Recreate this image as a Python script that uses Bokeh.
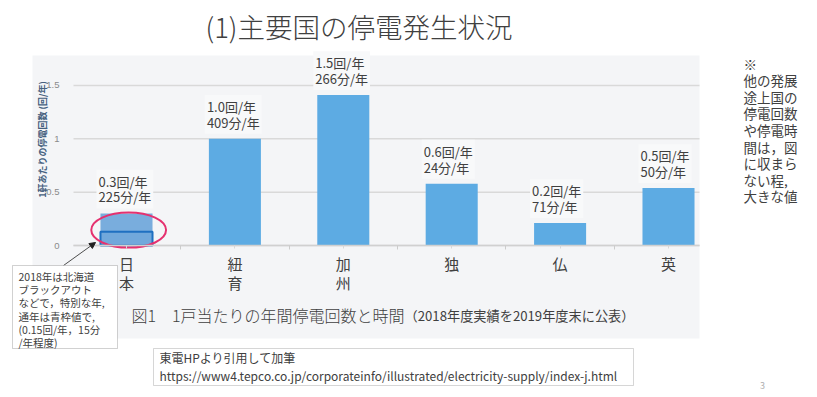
import math
from bokeh.plotting import figure
from bokeh.models import (Range1d, FixedTicker, Label, BoxAnnotation, Arrow,
                          NormalHead, ColumnDataSource, LinearAxis)
from bokeh.embed import file_html
from bokeh.resources import INLINE
from bokeh.core.properties import value

# ---------------- data ----------------
categories = ["日本", "紐育", "加州", "独", "仏", "英"]
outage_count_bar = [0.30, 1.00, 1.41, 0.58, 0.21, 0.54]
count_labels = ["0.3", "1.0", "1.5", "0.6", "0.2", "0.5"]
minute_labels = ["225", "409", "266", "24", "71", "50"]
japan_typical = [0.13]
y_ticks = [0, 0.5, 1, 1.5]
y_tick_labels = ["0", "0.5", "1", "1.5"]

title_text = "(1)主要国の停電発生状況"
caption_main = "図1　1戸当たりの年間停電回数と時間"
caption_sub = "（2018年度実績を2019年度末に公表）"
y_axis_title = "1軒あたりの停電回数 (回/年)"
note_left = "2018年は北海道\nブラックアウト\nなどで，特別な年,\n通年は青枠値で,\n(0.15回/年，15分\n/年程度)"
note_right = "※\n他の発展\n途上国の\n停電回数\nや停電時\n間は，図\nに収まら\nない程,\n大きな値"
source_text = "東電HPより引用して加筆\nhttps://www4.tepco.co.jp/corporateinfo/illustrated/electricity-supply/index-j.html"
page_no = "3"

# ---------------- layout ----------------
FONT = "Noto Sans CJK JP"
FONT_LIGHT = "Noto Sans CJK JP Light, Noto Sans CJK JP"
W, H = 817, 397
PX_PER_Y = 106.67      # pixels per unit on value axis
PX_PER_X = 108.4       # pixels per category step
X0 = 126               # pixel x of first category centre
Y_ZERO = 245           # pixel y of value 0
CH_L, CH_R = 73, 699   # chart plotting area (pixels)

x_start = (0 - X0) / PX_PER_X
x_end = (W - X0) / PX_PER_X
y_start = -(H - Y_ZERO) / PX_PER_Y
y_end = Y_ZERO / PX_PER_Y
x_left = (CH_L - X0) / PX_PER_X
x_right = (CH_R - X0) / PX_PER_X

p = figure(width=W, height=H, output_backend="svg", toolbar_location=None,
           x_range=Range1d(x_start, x_end), y_range=Range1d(y_start, y_end),
           x_axis_type=None, y_axis_type=None,
           min_border=0, min_border_left=0, min_border_right=0,
           min_border_top=0, min_border_bottom=0)
p.title.visible = False
p.outline_line_color = None
p.background_fill_color = "white"
p.border_fill_color = "white"
p.grid.visible = False

# pixel ranges for page decorations
p.extra_x_ranges = {"px": Range1d(0, W)}
p.extra_y_ranges = {"py": Range1d(H, 0)}

p.add_layout(BoxAnnotation(left=32, right=699, top=55, bottom=338,
                           x_range_name="px", y_range_name="py",
                           fill_color="#f4f5f7", fill_alpha=1, line_color=None,
                           level="image"))

# ---------------- grid lines (from tick values) ----------------
p.segment(x0=[x_left] * len(y_ticks), x1=[x_right] * len(y_ticks),
          y0=y_ticks, y1=y_ticks, line_color="#d9d9d9", line_width=1.5)

# ---------------- axes ----------------
def norm(t):
    return int(t) if float(t).is_integer() else t

yax = LinearAxis(fixed_location=x_left, ticker=FixedTicker(ticks=y_ticks))
yax.major_label_overrides = {norm(t): l for t, l in zip(y_ticks, y_tick_labels)}
yax.axis_line_color = None
yax.major_tick_line_color = None
yax.minor_tick_line_color = None
yax.major_label_text_font_size = "9.5px"
yax.major_label_text_color = "#8a8a8a"
yax.major_label_standoff = 8
p.add_layout(yax, "left")

xs = list(range(len(categories)))
xax = LinearAxis(fixed_location=0, bounds=(x_left, x_right),
                 ticker=FixedTicker(ticks=xs, minor_ticks=[i + 0.5 for i in xs[:-1]]))
xax.major_label_overrides = {i: "\n".join(c) for i, c in zip(xs, categories)}
xax.axis_line_color = "#d0d0d0"
xax.axis_line_width = 1.5
xax.major_tick_line_color = "#d8d8d8"
xax.major_tick_in = 0
xax.major_tick_out = 3
xax.minor_tick_line_color = "#cccccc"
xax.minor_tick_in = 0
xax.minor_tick_out = 4
xax.major_label_text_font = FONT
xax.major_label_text_font_size = "15px"
xax.major_label_text_color = "#404040"
xax.major_label_text_line_height = 0.92
xax.major_label_standoff = 3
p.add_layout(xax, "below")

# ---------------- bars ----------------
BAR_W = 0.48
bar_colors = ["#79addd" if i == 0 else "#5dabe3" for i in xs]
src = ColumnDataSource(dict(
    x=xs, top=outage_count_bar, color=bar_colors,
    lx=[i - BAR_W / 2 for i in xs],
    label=[f"{c}回/年\n{m}分/年" for c, m in zip(count_labels, minute_labels)],
))
p.vbar(x="x", top="top", width=BAR_W, fill_color="color", line_color=None, source=src)
p.vbar(x=[0], top=japan_typical, width=BAR_W, fill_color="#71a8db",
       line_color="#1f70c1", line_width=2)

p.text(x="lx", y="top", text="label", source=src, text_font=value(FONT),
       text_font_size="13px", text_color="#404040", text_align="left",
       text_baseline="bottom", x_offset=-4, y_offset=-5, text_line_height=0.83,
       background_fill_color="#f8f9fa", padding=2)

# highlight ellipse around Japan bar
p.ellipse(x=[0.02], y=[0.145], width=0.69, height=0.33, fill_color=None,
          line_color="#e5316f", line_width=2)

# ---------------- page texts ----------------
def lbl(x, y, text, size, color="#404040", align="left", baseline="top", lh=1.2,
        font=FONT, **kw):
    p.add_layout(Label(x=x, y=y, text=text, x_range_name="px", y_range_name="py",
                       text_font=font, text_font_size=size, text_color=color,
                       text_align=align, text_baseline=baseline,
                       text_line_height=lh, **kw))

lbl(42, 139, y_axis_title, "9px", color="#45607e", align="center",
    baseline="middle", angle=math.pi / 2, text_font_style="bold")
lbl(205, 25, title_text, "27.5px", baseline="middle", font=FONT_LIGHT)
lbl(131, 314, caption_main, "16px", baseline="middle", font=FONT_LIGHT)
lbl(404, 315, caption_sub, "13.2px", baseline="middle")
lbl(743, 53, note_right, "13.5px", lh=0.83)

# left note box
p.add_layout(BoxAnnotation(left=12, right=117, top=265, bottom=348,
                           x_range_name="px", y_range_name="py",
                           fill_color="white", fill_alpha=1,
                           line_color="#666666", line_width=1, level="overlay"))
lbl(18, 268, note_left, "10.5px", lh=0.89, level="overlay")
p.add_layout(Arrow(x_start=63, y_start=265, x_end=95, y_end=242,
                   x_range_name="px", y_range_name="py",
                   line_color="#222222", line_width=0.8,
                   end=NormalHead(size=6, fill_color="#222222", line_color="#222222")))

# source box
p.add_layout(BoxAnnotation(left=153, right=633, top=348, bottom=385,
                           x_range_name="px", y_range_name="py",
                           fill_color="white", fill_alpha=1,
                           line_color="#777777", line_width=1, level="overlay"))
lbl(159, 348, source_text, "12px", lh=1.11, level="overlay")

lbl(762, 385, page_no, "9px", color="#b0b0b0", align="center", baseline="middle")

open("out.html", "w").write(file_html(p, INLINE))
